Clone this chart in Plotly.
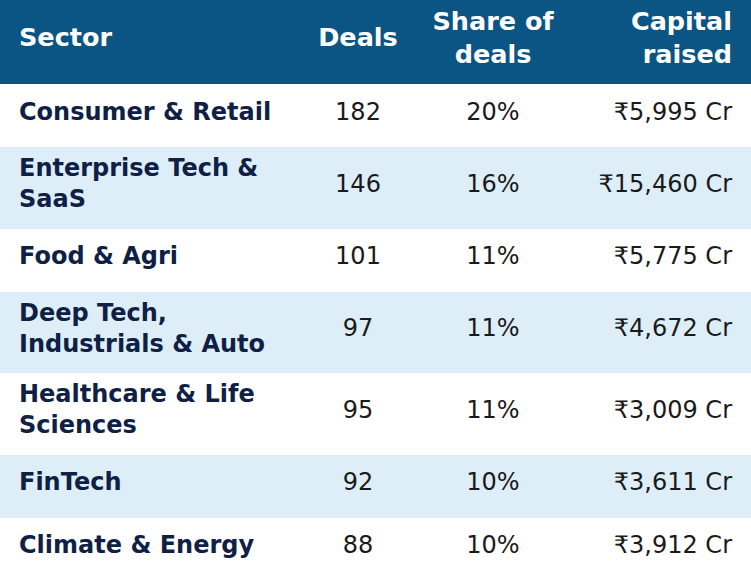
import itertools

import plotly.graph_objects as go

sectors = [
    "Consumer & Retail",
    "Enterprise Tech &<br>SaaS",
    "Food & Agri",
    "Deep Tech,<br>Industrials & Auto",
    "Healthcare & Life<br>Sciences",
    "FinTech",
    "Climate & Energy",
]
deals = [182, 146, 101, 97, 95, 92, 88]
share_pct = [20, 16, 11, 11, 11, 10, 10]
capital_cr = [5995, 15460, 5775, 4672, 3009, 3611, 3912]

headers = ["Sector", "Deals", "Share of<br>deals", "Capital<br>raised"]

WIDTH, HEIGHT = 751, 582
HEADER_BLUE = "#0B5584"
STRIPE = "#DDEEF8"
NAVY = "#0F1F45"
TEXT = "#1A1A1A"
FONT = "DejaVu Sans"
CELL_SIZE = 24
HEAD_SIZE = 25.5

# row heights (px) and where each column's text is anchored
HEADER_H = 84
ROW_H_ONE = 63
ROW_H_TWO = 81.5
TEXT_LIFT = 2
COL_X = [19, 358, 493, 732]
COL_POS = ["middle right", "middle center", "middle center", "middle left"]

heights = [HEADER_H] + [ROW_H_TWO if "<br>" in s else ROW_H_ONE for s in sectors]
edges = [0] + list(itertools.accumulate(heights))
centres = [(a + b) / 2 - TEXT_LIFT for a, b in zip(edges[:-1], edges[1:])]
head_y, row_y = centres[0], centres[1:]

# 0 = header, 1 = white row, 2 = striped row
band = [[0]] + [[2 if i % 2 else 1] for i in range(len(sectors))]

fig = go.Figure()
fig.add_trace(
    go.Heatmap(
        z=band,
        x=[0, WIDTH],
        y=edges,
        zmin=0,
        zmax=2,
        colorscale=[[0, HEADER_BLUE], [0.5, "white"], [1, STRIPE]],
        showscale=False,
        hoverinfo="skip",
    )
)

fig.add_trace(
    go.Scatter(
        x=COL_X,
        y=[head_y] * len(headers),
        text=[f"<b>{h}</b>" for h in headers],
        mode="text",
        textposition=COL_POS,
        textfont=dict(family=FONT, size=HEAD_SIZE, color="white"),
        hoverinfo="skip",
    )
)

columns = [
    [f"<b>{s}</b>" for s in sectors],
    [str(d) for d in deals],
    [f"{p}%" for p in share_pct],
    [f"₹{c:,} Cr" for c in capital_cr],
]
for i, values in enumerate(columns):
    fig.add_trace(
        go.Scatter(
            x=[COL_X[i]] * len(values),
            y=row_y,
            text=values,
            mode="text",
            textposition=COL_POS[i],
            textfont=dict(family=FONT, size=CELL_SIZE, color=NAVY if i == 0 else TEXT),
            hoverinfo="skip",
        )
    )

fig.update_xaxes(range=[0, WIDTH], visible=False, fixedrange=True)
fig.update_yaxes(range=[HEIGHT, 0], visible=False, fixedrange=True)
fig.update_layout(
    width=WIDTH,
    height=HEIGHT,
    margin=dict(l=0, r=0, t=0, b=0),
    paper_bgcolor="white",
    plot_bgcolor="white",
    showlegend=False,
    hovermode=False,
)

fig.write_html(
    "out.html",
    config={"displayModeBar": False},
    post_script="document.body.style.margin = '0';",
)
